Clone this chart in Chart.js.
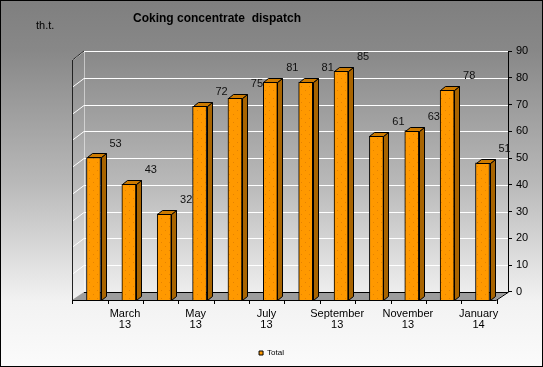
<!DOCTYPE html>
<html>
<head>
<meta charset="utf-8">
<script src="https://cdn.jsdelivr.net/npm/chart.js@4.4.1/dist/chart.umd.min.js"></script>
<style>
  html, body { margin: 0; padding: 0; background: #fff; }
  #wrap { width: 543px; height: 367px; position: relative; }
</style>
</head>
<body>
<div id="wrap"><canvas id="chart"></canvas></div>
<script>
const months = ['February 13', 'March 13', 'April 13', 'May 13', 'June 13', 'July 13',
                'August 13', 'September 13', 'October 13', 'November 13', 'December 13', 'January 14'];
const tickLabels = ['', ['March', '13'], '', ['May', '13'], '', ['July', '13'],
                    '', ['September', '13'], '', ['November', '13'], '', ['January', '14']];
const totals = [53, 43, 32, 72, 75, 81, 81, 85, 61, 63, 78, 51];
const yTicks = [0, 10, 20, 30, 40, 50, 60, 70, 80, 90];
const seriesName = 'Total';
const titleText = 'Coking concentrate  dispatch';
const unitText = 'th.t.';

// depth of the fake 3d box
const DX = 12, DY = 8;
// bar side/top faces
const BDX = 5, BDY = 4;

Chart.defaults.font.family = '"Liberation Sans", Arial, sans-serif';
Chart.defaults.color = '#000';

// dotted orange fill like the original
function dotted(base, dot) {
    const c = document.createElement('canvas');
    c.width = 8; c.height = 8;
    const p = c.getContext('2d');
    p.fillStyle = base;
    p.fillRect(0, 0, 8, 8);
    p.fillStyle = dot;
    p.fillRect(1, 2, 1, 1);
    p.fillRect(5, 6, 1, 1);
    return p.createPattern(c, 'repeat');
}

const box3d = {
    id: 'box3d',
    beforeDraw(chart) {
        const ctx = chart.ctx;
        const g = ctx.createLinearGradient(0, 0, 0, chart.height);
        g.addColorStop(0, '#7f7f7f');
        g.addColorStop(0.14, '#888888');
        g.addColorStop(0.5, '#b9b9b9');
        g.addColorStop(0.82, '#f2f2f2');
        g.addColorStop(1, '#fbfbfb');
        ctx.save();
        ctx.fillStyle = g;
        ctx.fillRect(0, 0, chart.width, chart.height);
        ctx.restore();
    },
    beforeDatasetsDraw(chart) {
        const ctx = chart.ctx;
        const a = chart.chartArea;
        const y2 = chart.scales.y2;
        const L = a.left, R = a.right, B = a.bottom, T = a.top;
        ctx.save();
        // floor
        ctx.beginPath();
        ctx.moveTo(L, B);
        ctx.lineTo(R - DX, B);
        ctx.lineTo(R, B - DY);
        ctx.lineTo(L + DX, B - DY);
        ctx.closePath();
        ctx.fillStyle = '#9c9c9c';
        ctx.fill();
        // grid lines on back wall and left wall
        ctx.strokeStyle = '#ffffff';
        ctx.lineWidth = 1;
        yTicks.forEach(v => {
            if (v === 0) return;
            const y = Math.round(y2.getPixelForValue(v)) + 0.5;
            ctx.beginPath();
            ctx.moveTo(L, y + DY + 1);
            ctx.lineTo(L + DX, y);
            ctx.lineTo(R, y);
            ctx.stroke();
        });
        // back wall left edge
        ctx.strokeStyle = 'rgba(255,255,255,0.5)';
        ctx.beginPath();
        ctx.moveTo(L + DX + 0.5, T);
        ctx.lineTo(L + DX + 0.5, B - DY);
        ctx.stroke();
        // outlines
        ctx.strokeStyle = '#000';
        ctx.beginPath();
        ctx.moveTo(L, B + 0.5);
        ctx.lineTo(R - DX, B + 0.5);
        ctx.lineTo(R, B - DY + 0.5);
        ctx.lineTo(L + DX, B - DY + 0.5);
        ctx.stroke();
        ctx.strokeStyle = '#222';
        ctx.beginPath();
        ctx.moveTo(L + 0.5, B + 0.5);
        ctx.lineTo(L + 0.5, T + DY + 1);
        ctx.lineTo(L + DX, T);
        ctx.stroke();
        ctx.strokeStyle = '#000';
        ctx.beginPath();
        ctx.moveTo(R + 0.5, T);
        ctx.lineTo(R + 0.5, B - DY + 0.5);
        ctx.stroke();
        ctx.restore();
    },
    afterDatasetsDraw(chart) {
        const ctx = chart.ctx;
        const a = chart.chartArea;
        const meta = chart.getDatasetMeta(0);
        const xs = chart.scales.x;
        ctx.save();
        ctx.lineWidth = 1;
        ctx.strokeStyle = '#000';
        meta.data.forEach((bar, i) => {
            const w = bar.width;
            const l = Math.round(bar.x - w / 2) + 0.5;
            const r = Math.round(bar.x + w / 2) + 0.5;
            const t = Math.round(bar.y) + 0.5;
            const b = Math.round(bar.base) + 0.5;
            // side face
            ctx.beginPath();
            ctx.moveTo(r, t);
            ctx.lineTo(r + BDX, t - BDY);
            ctx.lineTo(r + BDX, b - BDY);
            ctx.lineTo(r, b);
            ctx.closePath();
            ctx.fillStyle = '#a86400';
            ctx.fill();
            ctx.stroke();
            // top face
            ctx.beginPath();
            ctx.moveTo(l, t);
            ctx.lineTo(l + BDX, t - BDY);
            ctx.lineTo(r + BDX, t - BDY);
            ctx.lineTo(r, t);
            ctx.closePath();
            ctx.fillStyle = '#cc7a00';
            ctx.fill();
            ctx.stroke();
            // value label
            ctx.fillStyle = '#111';
            ctx.font = '11px "Liberation Sans", Arial, sans-serif';
            ctx.textAlign = 'center';
            ctx.textBaseline = 'middle';
            ctx.fillText(String(totals[i]), bar.x + 22, bar.y - 14);
        });
        // category boundary ticks
        ctx.strokeStyle = '#000';
        for (let k = 0; k <= months.length; k++) {
            const x = Math.round(xs.getPixelForValue(k - 0.6)) + 0.5;
            ctx.beginPath();
            ctx.moveTo(x, a.bottom);
            ctx.lineTo(x, a.bottom + 4);
            ctx.stroke();
        }
        ctx.restore();
    },
    afterDraw(chart) {
        const ctx = chart.ctx;
        ctx.save();
        ctx.fillStyle = '#000';
        ctx.textBaseline = 'middle';
        ctx.textAlign = 'center';
        ctx.font = 'bold 12px "Liberation Sans", Arial, sans-serif';
        ctx.fillText(titleText, 217, 19);
        ctx.textAlign = 'left';
        ctx.font = '11px "Liberation Sans", Arial, sans-serif';
        ctx.fillText(unitText, 36, 26);
        ctx.strokeStyle = '#000';
        ctx.lineWidth = 1;
        ctx.strokeRect(0.5, 0.5, chart.width - 1, chart.height - 1);
        ctx.restore();
    }
};

const ctx = document.getElementById('chart').getContext('2d');
const chart = new Chart(ctx, {
    type: 'bar',
    data: {
        datasets: [{
            label: seriesName,
            data: totals.map((v, i) => ({ x: i, y: v })),
            backgroundColor: dotted('#ff9900', '#e58200'),
            borderColor: '#000',
            borderWidth: 1,
            barThickness: 14,
            yAxisID: 'y'
        }]
    },
    plugins: [box3d],
    options: {
        responsive: true,
        maintainAspectRatio: false,
        animation: false,
        layout: { padding: { left: 0, top: 51, right: 0, bottom: 0 } },
        scales: {
            x: {
                type: 'linear',
                offset: false,
                min: -0.608,
                max: 11.721,
                grid: { display: false, drawTicks: false, offset: false },
                border: { display: false },
                afterBuildTicks: scale => {
                    scale.ticks = months.map((m, i) => ({ value: i - 0.11 }));
                },
                afterFit: scale => { scale.height = 42; },
                ticks: {
                    autoSkip: false,
                    maxRotation: 0,
                    padding: 8,
                    font: { size: 11, lineHeight: 1.05 },
                    callback: (value, index) => tickLabels[index]
                }
            },
            y: {
                // hidden value axis for the bars, only reserves the left margin
                position: 'left',
                min: 0,
                max: 92.6,
                grid: { display: false, drawTicks: false },
                border: { display: false },
                ticks: { display: false },
                afterFit: scale => { scale.width = 72; }
            },
            y2: {
                position: 'right',
                min: -2.988,
                max: 90,
                afterBuildTicks: scale => {
                    scale.ticks = yTicks.map(v => ({ value: v }));
                },
                afterFit: scale => { scale.width = 35; },
                grid: { drawOnChartArea: false, tickLength: 4, color: '#000' },
                border: { display: false },
                ticks: { padding: 4, font: { size: 11 } }
            }
        },
        plugins: {
            title: { display: false },
            tooltip: { enabled: false },
            legend: {
                position: 'bottom',
                labels: {
                    boxWidth: 4,
                    boxHeight: 4,
                    padding: 7,
                    font: { size: 8 },
                    generateLabels: c => [{
                        text: seriesName,
                        fillStyle: '#ff9900',
                        strokeStyle: '#000',
                        lineWidth: 1,
                        datasetIndex: 0
                    }]
                }
            }
        }
    }
});
</script>
</body>
</html>
